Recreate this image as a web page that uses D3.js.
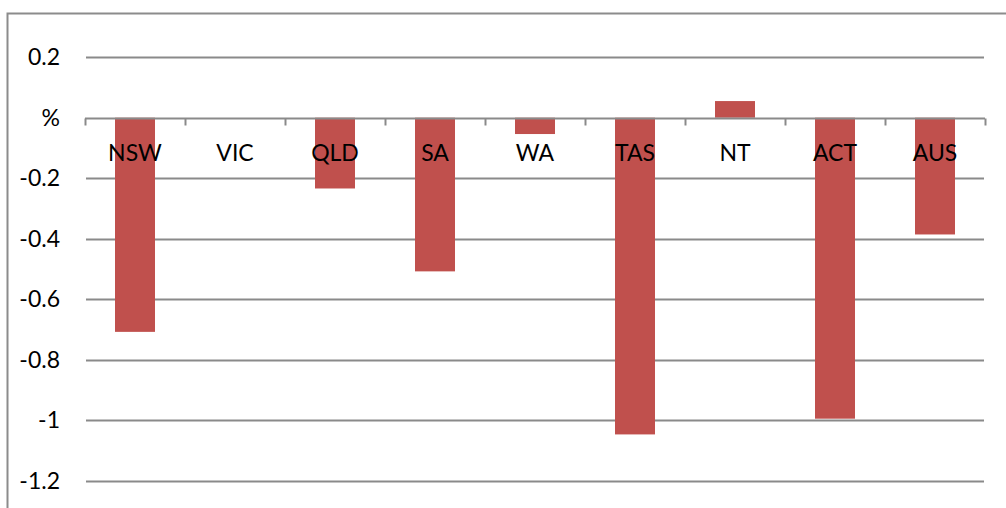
<!DOCTYPE html>
<html>
<head>
<meta charset="utf-8">
<script src="https://cdn.jsdelivr.net/npm/d3@7"></script>
<style>
  body { margin: 0; background: #fff; }
  svg text { font-family: Lato, "Open Sans", sans-serif; fill: #000; }
</style>
</head>
<body>
<div id="chart"></div>
<script>
// states and % change
let states = ["NSW", "VIC", "QLD", "SA", "WA", "TAS", "NT", "ACT", "AUS"];
let change = [-0.708, 0, -0.234, -0.508, -0.054, -1.047, 0.055, -0.995, -0.386];
let yTicks = [0.2, 0, -0.2, -0.4, -0.6, -0.8, -1, -1.2];
let yTickLabels = ["0.2", "%", "-0.2", "-0.4", "-0.6", "-0.8", "-1", "-1.2"];

let W = 1006, H = 508;

let svg = d3.select("#chart")
  .append("svg")
    .attr("width", W)
    .attr("height", H);

// chart frame (runs off the right and bottom edges)
svg.append("rect")
  .attr("x", 7.5).attr("y", 13.5)
  .attr("width", 1010).attr("height", 520)
  .attr("fill", "none")
  .attr("stroke", "#8c8c8c")
  .attr("stroke-width", 2);

let x = d3.scaleBand()
  .domain(states)
  .range([85, 985])
  .paddingInner(0.6)
  .paddingOuter(0.3);

let y = d3.scaleLinear()
  .domain([-1.2, 0.2])
  .range([480.7, 57.2]);

// gridlines
svg.append("g")
  .selectAll("line")
  .data(yTicks.filter(d => d !== 0))
  .enter()
  .append("line")
    .attr("x1", 86).attr("x2", 984)
    .attr("y1", d => Math.round(y(d)) + 0.5)
    .attr("y2", d => Math.round(y(d)) + 0.5)
    .attr("stroke", "#8a8a8a")
    .attr("stroke-width", 2);

// y labels
svg.append("g")
  .selectAll("text")
  .data(yTicks)
  .enter()
  .append("text")
    .attr("x", 60)
    .attr("y", d => y(d))
    .attr("dy", "0.35em")
    .attr("text-anchor", "end")
    .style("font-size", "23px")
    .text((d, i) => yTickLabels[i]);

// bars
svg.append("g")
  .selectAll("rect")
  .data(change)
  .enter()
  .append("rect")
    .attr("x", (d, i) => x(states[i]))
    .attr("width", x.bandwidth())
    .attr("y", d => y(Math.max(0, d)))
    .attr("height", d => Math.abs(y(d) - y(0)))
    .attr("fill", "#c0504d");

// zero axis with tick marks
let zeroY = Math.round(y(0)) + 0.5;
svg.append("line")
  .attr("x1", 85).attr("x2", 985)
  .attr("y1", zeroY).attr("y2", zeroY)
  .attr("stroke", "#8a8a8a")
  .attr("stroke-width", 2);

let step = 900 / states.length;
svg.append("g")
  .selectAll("line")
  .data(d3.range(states.length + 1))
  .enter()
  .append("line")
    .attr("x1", d => 85.5 + d * step)
    .attr("x2", d => 85.5 + d * step)
    .attr("y1", zeroY)
    .attr("y2", zeroY + 7)
    .attr("stroke", "#8a8a8a")
    .attr("stroke-width", 2);

// category labels
svg.append("g")
  .selectAll("text")
  .data(states)
  .enter()
  .append("text")
    .attr("x", d => x(d) + x.bandwidth() / 2)
    .attr("y", 153)
    .attr("dy", "0.35em")
    .attr("text-anchor", "middle")
    .style("font-size", "23px")
    .text(d => d);
</script>
</body>
</html>
